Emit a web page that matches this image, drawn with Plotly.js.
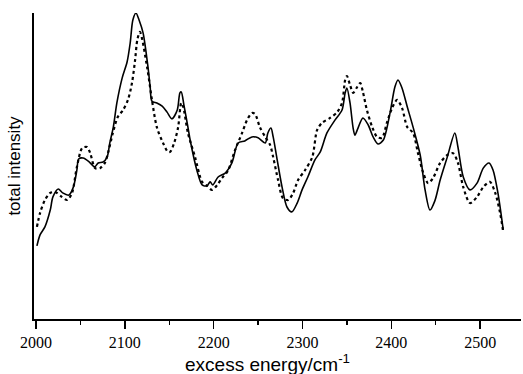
<!DOCTYPE html>
<html>
<head>
<meta charset="utf-8">
<script src="https://cdn.plot.ly/plotly-3.0.1.min.js"></script>
<style>
  html, body { margin: 0; padding: 0; background: #fff; }
  #chart { width: 523px; height: 374px; }
</style>
</head>
<body>
<div id="chart"></div>
<script>
// Excess energy (cm^-1) and total intensity (arbitrary units) for the two spectra
const energySolid = [2001, 2004.5, 2010, 2016, 2019, 2025, 2030, 2037, 2042, 2046, 2048, 2053, 2060, 2066, 2070, 2075.5, 2080, 2083, 2087, 2091, 2097, 2102.5, 2106, 2109, 2112.5, 2116, 2120.5, 2126, 2128.5, 2130.5, 2136, 2142, 2147.5, 2153, 2159, 2162, 2163.5, 2166.5, 2171, 2173.5, 2181, 2187, 2192.5, 2196, 2199, 2205, 2213, 2220.5, 2227.5, 2235, 2243, 2250, 2258, 2261, 2264.5, 2267, 2271.5, 2277, 2282.5, 2288, 2294, 2299.5, 2306, 2314, 2320, 2327.5, 2336.5, 2344.5, 2348, 2350, 2353.5, 2357, 2359, 2362.5, 2368, 2374, 2379.5, 2385, 2391, 2398.5, 2404, 2407.5, 2412, 2418, 2424.5, 2432.5, 2438, 2443.5, 2449, 2455, 2463, 2471.5, 2475, 2481, 2488.5, 2496.5, 2503.5, 2510, 2514.5, 2520, 2526];
const intensitySolid = [0.239, 0.275, 0.301, 0.356, 0.399, 0.425, 0.412, 0.405, 0.431, 0.487, 0.523, 0.526, 0.513, 0.497, 0.510, 0.513, 0.529, 0.575, 0.627, 0.706, 0.788, 0.840, 0.902, 0.977, 1.000, 0.977, 0.935, 0.824, 0.758, 0.712, 0.706, 0.696, 0.676, 0.654, 0.683, 0.739, 0.742, 0.699, 0.627, 0.585, 0.487, 0.438, 0.435, 0.448, 0.438, 0.464, 0.477, 0.510, 0.575, 0.582, 0.595, 0.592, 0.575, 0.608, 0.624, 0.595, 0.520, 0.431, 0.366, 0.350, 0.379, 0.422, 0.464, 0.520, 0.546, 0.608, 0.650, 0.683, 0.739, 0.755, 0.706, 0.624, 0.601, 0.624, 0.657, 0.634, 0.595, 0.572, 0.585, 0.673, 0.758, 0.781, 0.755, 0.693, 0.627, 0.536, 0.422, 0.356, 0.386, 0.454, 0.529, 0.608, 0.562, 0.464, 0.422, 0.444, 0.493, 0.510, 0.487, 0.412, 0.291];

const energyDotted = [2001, 2004.5, 2010, 2016, 2021.5, 2029, 2035, 2040.5, 2046, 2052, 2057.5, 2061, 2066.5, 2072, 2077.5, 2081, 2086.5, 2092, 2098, 2103.5, 2108, 2111.5, 2114, 2117, 2125, 2130.5, 2136, 2143, 2148.5, 2151, 2155.5, 2160, 2163.5, 2165.5, 2171, 2179, 2187, 2192.5, 2198, 2204, 2209.5, 2216, 2224, 2232, 2237.5, 2243, 2246.5, 2252, 2258, 2263.5, 2267, 2272.5, 2278, 2284, 2289.5, 2295, 2303, 2311, 2316.5, 2322, 2331, 2339, 2344.5, 2348, 2350, 2353.5, 2357, 2361.5, 2365, 2368, 2372.5, 2378.5, 2384, 2389.5, 2395, 2401, 2406.5, 2412, 2418, 2424.5, 2430, 2436, 2441.5, 2447, 2455, 2463, 2469.5, 2475, 2481, 2488.5, 2496.5, 2503.5, 2511, 2517, 2522.5, 2526];
const intensityDotted = [0.301, 0.346, 0.389, 0.412, 0.415, 0.399, 0.389, 0.412, 0.497, 0.559, 0.562, 0.542, 0.493, 0.493, 0.510, 0.542, 0.608, 0.660, 0.683, 0.716, 0.771, 0.846, 0.912, 0.938, 0.824, 0.716, 0.627, 0.575, 0.546, 0.546, 0.575, 0.627, 0.706, 0.696, 0.608, 0.529, 0.448, 0.435, 0.422, 0.438, 0.461, 0.484, 0.552, 0.608, 0.650, 0.673, 0.670, 0.627, 0.595, 0.569, 0.529, 0.454, 0.395, 0.389, 0.412, 0.454, 0.487, 0.529, 0.618, 0.641, 0.657, 0.676, 0.706, 0.781, 0.794, 0.765, 0.739, 0.758, 0.771, 0.742, 0.683, 0.627, 0.595, 0.592, 0.641, 0.690, 0.716, 0.690, 0.627, 0.608, 0.542, 0.477, 0.444, 0.461, 0.510, 0.536, 0.542, 0.510, 0.431, 0.379, 0.399, 0.431, 0.448, 0.412, 0.346, 0.284];

const xTickValues = [2000, 2100, 2200, 2300, 2400, 2500];
const xTitle = 'excess energy/cm<sup>-1</sup>';
const yTitle = 'total intensity';

const traces = [
  {
    x: energyDotted, y: intensityDotted, type: 'scatter', mode: 'lines',
    line: { color: '#000', width: 2.2, dash: 'dot', shape: 'spline', smoothing: 0.8 },
    hoverinfo: 'skip'
  },
  {
    x: energySolid, y: intensitySolid, type: 'scatter', mode: 'lines',
    line: { color: '#000', width: 1.6, shape: 'spline', smoothing: 0.8 },
    hoverinfo: 'skip'
  }
];

const layout = {
  width: 523, height: 374,
  margin: { l: 34, r: 2, t: 13, b: 55 },
  paper_bgcolor: '#fff', plot_bgcolor: '#fff',
  showlegend: false,
  xaxis: {
    range: [1997.7, 2546],
    tickvals: xTickValues,
    ticktext: xTickValues.map(String),
    ticks: 'outside', ticklen: 8, tickwidth: 1.3, tickcolor: '#000',
    minor: { dtick: 50, ticks: 'outside', ticklen: 4, tickwidth: 1.3, tickcolor: '#000' },
    showline: true, linecolor: '#000', linewidth: 1.5,
    showgrid: false, zeroline: false,
    tickfont: { family: 'Liberation Serif, Times New Roman, serif', size: 16, color: '#000' }
  },
  yaxis: {
    range: [0, 1.0],
    showticklabels: false, ticks: '',
    showline: true, linecolor: '#000', linewidth: 1.8,
    showgrid: false, zeroline: false,
    title: {
      text: yTitle,
      font: { family: 'Liberation Sans, Arial, sans-serif', size: 17, color: '#000' },
      standoff: 7
    }
  },
  // x-axis title, set slightly left of the axis centre
  annotations: [{
    text: xTitle,
    xref: 'paper', yref: 'paper',
    x: 0.479, y: 0, xanchor: 'center', yanchor: 'top', yshift: -30,
    showarrow: false,
    font: { family: 'Liberation Sans, Arial, sans-serif', size: 19, color: '#000' }
  }]
};

Plotly.newPlot('chart', traces, layout, { staticPlot: true, displayModeBar: false });
</script>
</body>
</html>
